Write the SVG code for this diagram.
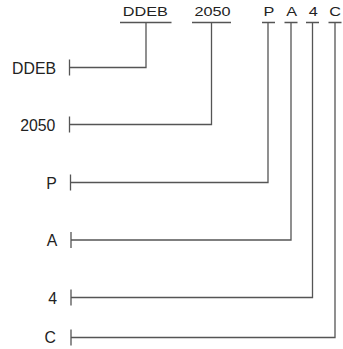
<svg xmlns="http://www.w3.org/2000/svg" width="343" height="349" viewBox="0 0 343 349">
<style>
.t{font-family:"Liberation Sans",Arial,sans-serif;fill:#222;}
.top{font-size:12.5px;text-anchor:middle;}
.lft{font-size:15.8px;text-anchor:end;}
#connectors path{fill:none;stroke:#555;stroke-width:1.3;}
</style>
<rect width="343" height="349" fill="#fff"/>
<g id="connectors">
<path d="M120 22.5H171.5M146 22.5V67.5H69.5M69.5 59.5V75.5"/>
<path d="M192 22.5H231M211.5 22.5V124.5H69.5M69.5 116.5V132.5"/>
<path d="M262 22.5H275M268 22.5V182.5H70.5M70.5 174.5V190.5"/>
<path d="M284.5 22.5H297.5M291 22.5V240H71M71 232V248"/>
<path d="M306 22.5H319M312.5 22.5V297.5H71M71 289.5V305.5"/>
<path d="M328.5 22.5H341.5M335 22.5V337.5H71M71 329.5V345.5"/>
</g>
<g id="top-labels">
<text class="t top" transform="translate(145.3 16.3) scale(1.3 1)">DDEB</text>
<text class="t top" transform="translate(212.5 16.3) scale(1.3 1)">2050</text>
<text class="t top" transform="translate(268.8 16.3) scale(1.3 1)">P</text>
<text class="t top" transform="translate(291.7 16.3) scale(1.3 1)">A</text>
<text class="t top" transform="translate(313.3 16.3) scale(1.3 1)">4</text>
<text class="t top" transform="translate(335 16.3) scale(1.3 1)">C</text>
</g>
<g id="node-DDEB"><text class="t lft" x="56" y="74">DDEB</text></g>
<g id="node-2050"><text class="t lft" x="55.3" y="131.3">2050</text></g>
<g id="node-P"><text class="t lft" x="56.7" y="188.7">P</text></g>
<g id="node-A"><text class="t lft" x="57.3" y="246">A</text></g>
<g id="node-4"><text class="t lft" x="57" y="303.5">4</text></g>
<g id="node-C"><text class="t lft" x="56" y="343">C</text></g>
</svg>
